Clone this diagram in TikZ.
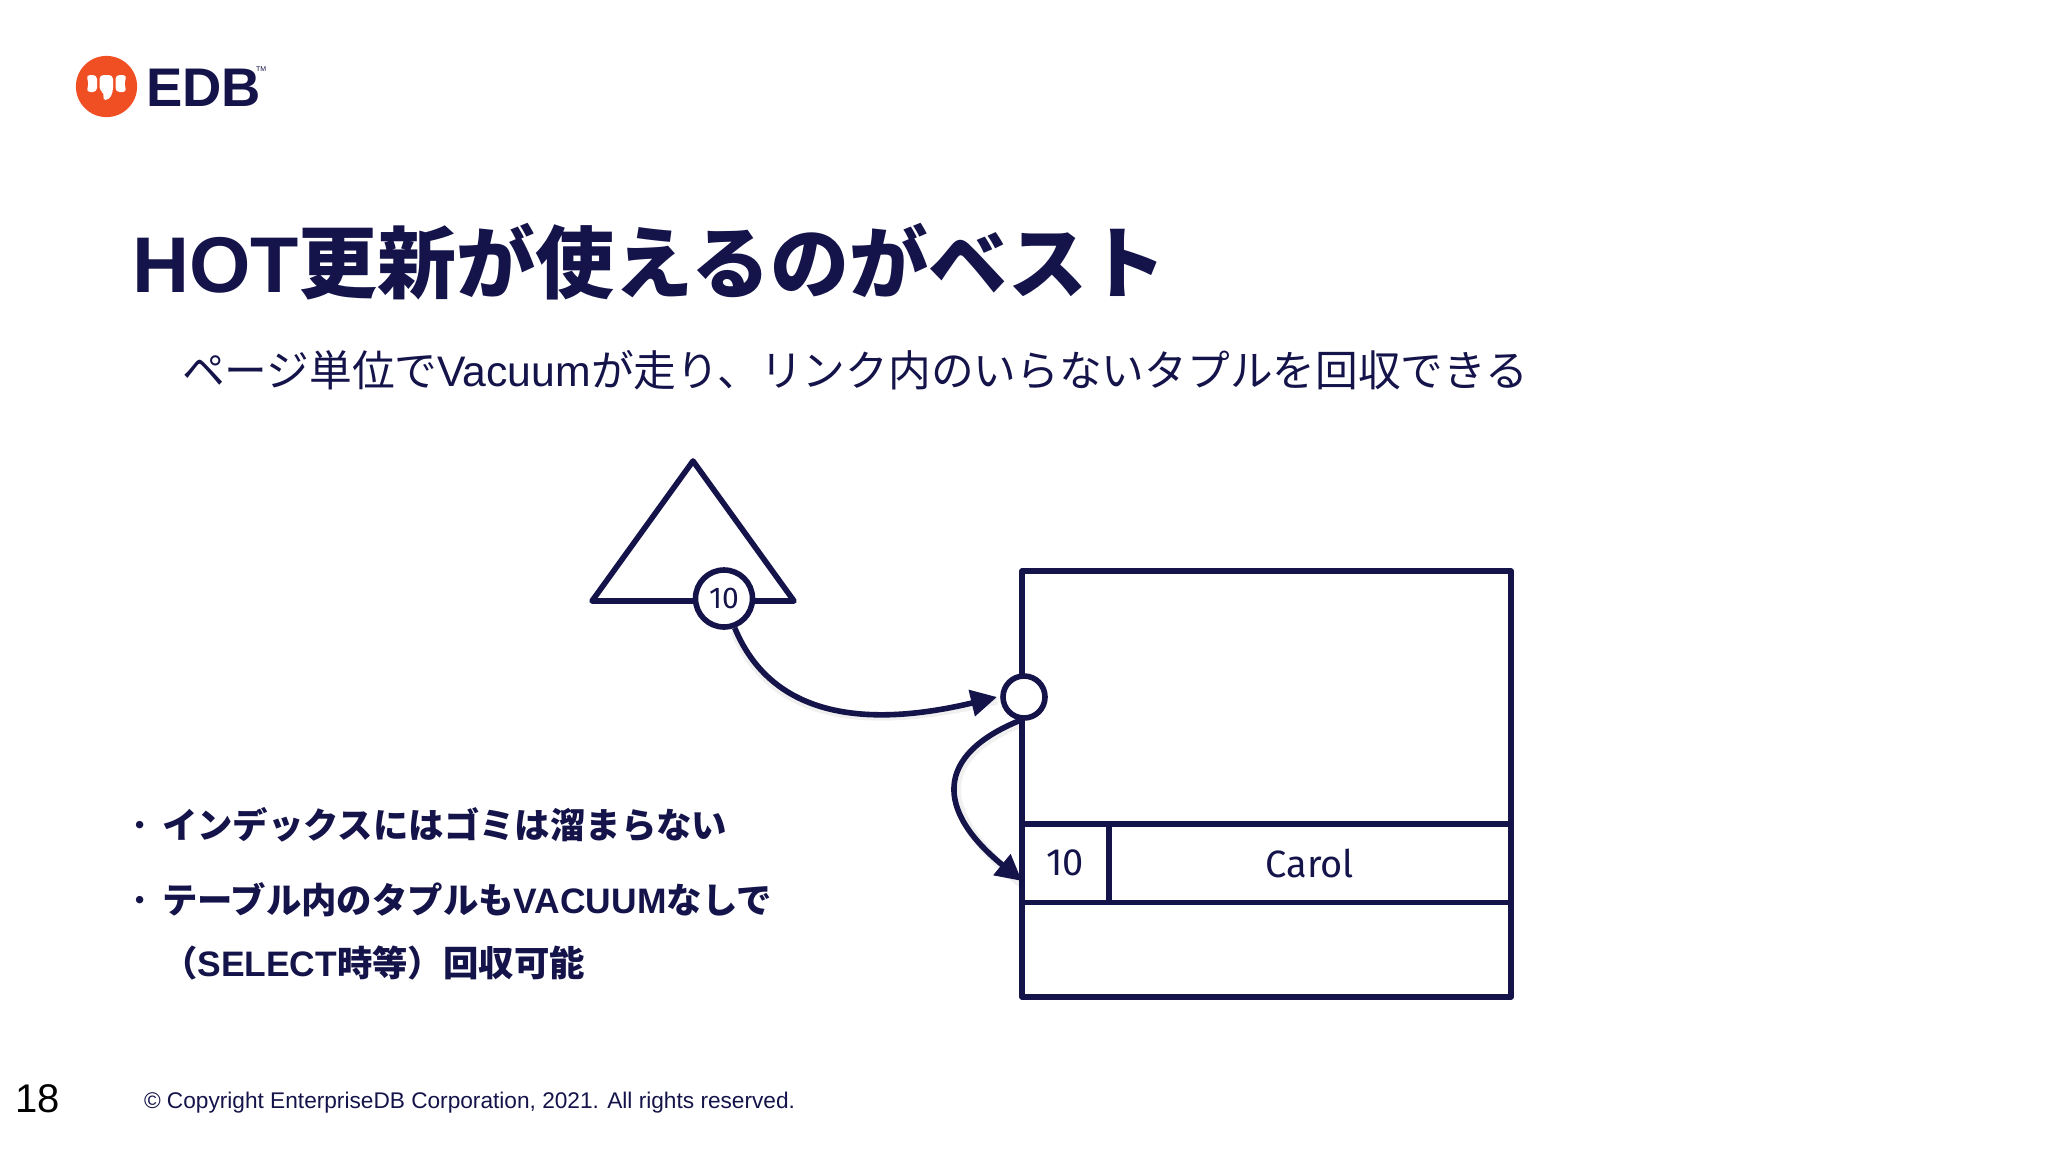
\documentclass[tikz,border=0pt]{standalone}
\usepackage{fontspec}
\usetikzlibrary{arrows.meta,calc}
\setmainfont{Liberation Sans}
\newfontfamily\jp{Noto Sans CJK JP}
\newfontfamily\handfont{Fira Sans}
\definecolor{navy}{HTML}{14134A}
\definecolor{edborange}{HTML}{F04E23}
\newcommand{\fs}[1]{\fontsize{#1}{#1}\selectfont}
\tikzset{
  x=0.5pt,y=-0.5pt,
  txt/.style={anchor=base west,inner sep=0pt,outer sep=0pt,text=navy},
  shape line/.style={draw=navy,line width=2.8pt,line join=round},
  hand/.style={inner sep=0pt,text=navy,font=\handfont\fs{19}},
  conn/.style={draw=navy,line width=2.8pt,-{Triangle[length=13pt,width=13pt]},
    preaction={draw=black,opacity=0.06,line width=4.5pt,transform canvas={yshift=-1.5pt},arrows=-}},
  boxed/.style={shape line,inner sep=0pt,anchor=north west},
}
\begin{document}
\begin{tikzpicture}
\useasboundingbox (0,0) rectangle (2048,1152);
% logo
\fill[edborange] (106.5,86.5) circle[radius=30.6];
\fill[white,rounded corners=2pt] (86,75) -- (97,75) -- (97,92) -- (86,92) -- (89,84) -- cycle;
\fill[white,rounded corners=2pt] (99.5,75) -- (113,75) -- (113,92) -- (109,100) -- (102,100) -- (105,93) -- (99.5,91) -- cycle;
\fill[white,rounded corners=2pt] (115.5,75) -- (127,75) -- (124,84) -- (127,92) -- (115.5,92) -- cycle;
\node[txt,font=\bfseries\fs{27.2}] (edb) at (146,106) {EDB};
\node[txt,font=\fs{3.5}] (tm) at (256,71) {TM};
% title
\node[txt,font=\bfseries\fs{39.5}] (title) at (132,292) {HOT{\jp 更新が使えるのがベスト}};
\node[txt,font=\fs{21.36}] (sub) at (182,386) {{\jp ページ単位で}Vacuum{\jp が走り、リンク内のいらないタプルを回収できる}};
% bullets
\node[txt,font=\fs{17.6}] (b1m) at (122,838) {\jp ・};
\node[txt,font=\bfseries\fs{17.7}] (b1) at (162,838) {\jp インデックスにはゴミは溜まらない};
\node[txt,font=\fs{17.6}] (b2m) at (122,913) {\jp ・};
\node[txt,font=\bfseries\fs{17.7}] (b2) at (162,913) {{\jp テーブル内のタプルも}VACUUM{\jp なしで}};
\node[txt,font=\bfseries\fs{17.7}] (b3) at (162,976) {{\jp （}SELECT{\jp 時等）回収可能}};
% footer
\node[txt,font=\fs{11.33}] (copy) at (144,1108) {© Copyright EnterpriseDB Corporation, 2021. All rights reserved.};
\node[txt,text=black,font=\fs{20}] (page) at (15,1112) {18};
% index triangle
\draw[shape line] (693,461) -- (794,601) -- (592,601) -- cycle;
\node[circle,shape line,fill=white,minimum size=28.5pt,inner sep=0pt,font=\handfont\fs{15},text=navy] (idx) at (724,598.5) {10};
% table page
\node[boxed,minimum width=244.5pt,minimum height=213pt] (pagebox) at (1019.2,568.2) {};
\node[boxed,hand,minimum width=43.3pt,minimum height=39.3pt] (key) at (1019.2,821.2) {10};
\node[boxed,hand,minimum width=201pt,minimum height=39.3pt] (val) at (1105.9,821.2) {Carol};
\node[circle,shape line,fill=white,minimum size=21pt,inner sep=0pt] (ptr) at (1024,697) {};
% connectors
\coordinate (tipA) at (997,697);
\coordinate (tipB) at (1022,881);
\draw[conn] (idx.-70) .. controls (775,725) and (880,725) .. (tipA);
\draw[conn] (ptr.-100) .. controls (935,755) and (935,810) .. (tipB);
\end{tikzpicture}
\end{document}
